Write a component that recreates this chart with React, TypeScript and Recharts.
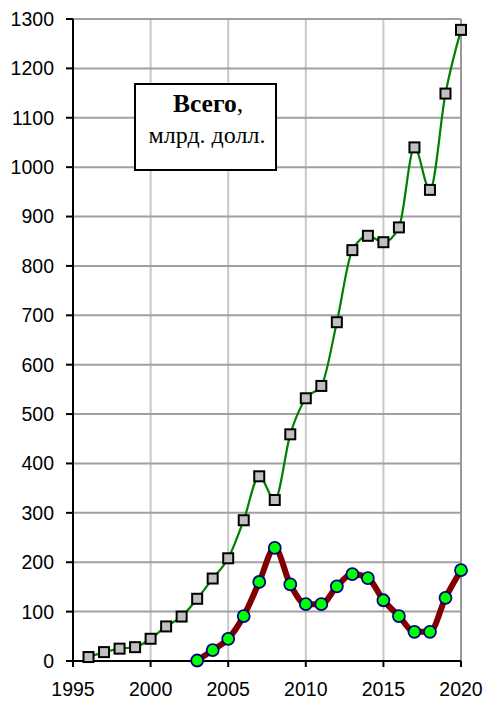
import React from "react";
import {
  CartesianGrid,
  Line,
  LineChart,
  ReferenceLine,
  XAxis,
  YAxis,
} from "recharts";

// годы и значения
const years = [
  1996, 1997, 1998, 1999, 2000, 2001, 2002, 2003, 2004, 2005, 2006, 2007, 2008,
  2009, 2010, 2011, 2012, 2013, 2014, 2015, 2016, 2017, 2018, 2019, 2020,
];
const totals = [
  8, 18, 25, 28, 45, 70, 90, 126, 167, 208, 285, 374, 326, 459, 532, 557, 686,
  832, 861, 848, 878, 1040, 954, 1149, 1278,
];
const secondYears = [
  2003, 2004, 2005, 2006, 2007, 2008, 2009, 2010, 2011, 2012, 2013, 2014, 2015,
  2016, 2017, 2018, 2019, 2020,
];
const secondValues = [
  1, 22, 45, 91, 160, 229, 155, 115, 115, 151, 176, 168, 123, 91, 59, 59, 128,
  184,
];
const xTicks = [1995, 2000, 2005, 2010, 2015, 2020];
const yTicks = [
  0, 100, 200, 300, 400, 500, 600, 700, 800, 900, 1000, 1100, 1200, 1300,
];

const data = years.map((y, i) => {
  const j = secondYears.indexOf(y);
  return { year: y, total: totals[i], second: j >= 0 ? secondValues[j] : undefined };
});

const tickStyle = { fontFamily: "Arial, 'Liberation Sans', sans-serif", fontSize: 19.5, fill: "#000" };

const SquareDot = (props: any) => {
  const { cx, cy, index } = props;
  if (cx == null || cy == null) return <g key={index} />;
  return (
    <rect
      key={index}
      x={cx - 5}
      y={cy - 5}
      width={10}
      height={10}
      fill="#c0c0c0"
      stroke="#000"
      strokeWidth={2}
    />
  );
};

const CircleDot = (props: any) => {
  const { cx, cy, index, value } = props;
  if (cx == null || cy == null || value == null) return <g key={index} />;
  return <circle key={index} cx={cx} cy={cy} r={6} fill="#00ff00" stroke="#000080" strokeWidth={1.8} />;
};

export default function App() {
  return (
    <div style={{ position: "absolute", left: 0, top: 0, width: 486, height: 703 }}>
      <LineChart
        width={486}
        height={703}
        data={data}
        margin={{ top: 19, right: 25, left: 0, bottom: 0 }}
      >
        <CartesianGrid horizontal={false} stroke="#c8c8c8" strokeWidth={2} />
        <CartesianGrid vertical={false} stroke="#a0a0a0" strokeWidth={2} />
        <ReferenceLine x={2020} stroke="#999" strokeWidth={2} />
        <XAxis
          dataKey="year"
          type="number"
          domain={[1995, 2020]}
          ticks={xTicks}
          interval={0}
          height={42}
          tickSize={6}
          tickMargin={15}
          axisLine={{ stroke: "#000", strokeWidth: 2 }}
          tickLine={{ stroke: "#000", strokeWidth: 2 }}
          tick={tickStyle}
        />
        <YAxis
          type="number"
          domain={[0, 1300]}
          ticks={yTicks}
          interval={0}
          width={73}
          tickSize={7}
          tickMargin={12}
          axisLine={{ stroke: "#000", strokeWidth: 2 }}
          tickLine={{ stroke: "#000", strokeWidth: 2 }}
          tick={tickStyle}
        />
        <Line
          dataKey="total"
          type="monotone"
          stroke="#008000"
          strokeWidth={2.2}
          dot={SquareDot}
          activeDot={false}
          isAnimationActive={false}
        />
        <Line
          dataKey="second"
          type="monotone"
          stroke="#800000"
          strokeWidth={6}
          dot={CircleDot}
          activeDot={false}
          isAnimationActive={false}
        />
      </LineChart>
      <svg
        width={486}
        height={703}
        style={{ position: "absolute", left: 0, top: 0, pointerEvents: "none" }}
      >
        <rect x={135} y={84} width={141} height={86} fill="#fff" stroke="#000" strokeWidth={2} />
        <text
          x={208}
          y={112}
          textAnchor="middle"
          fontFamily="'Times New Roman', 'Liberation Serif', serif"
          fontSize={25.5}
        >
          <tspan fontWeight="bold">Всего</tspan>,
        </text>
        <text
          x={207}
          y={143}
          textAnchor="middle"
          fontFamily="'Times New Roman', 'Liberation Serif', serif"
          fontSize={24}
        >
          млрд. долл.
        </text>
      </svg>
    </div>
  );
}
